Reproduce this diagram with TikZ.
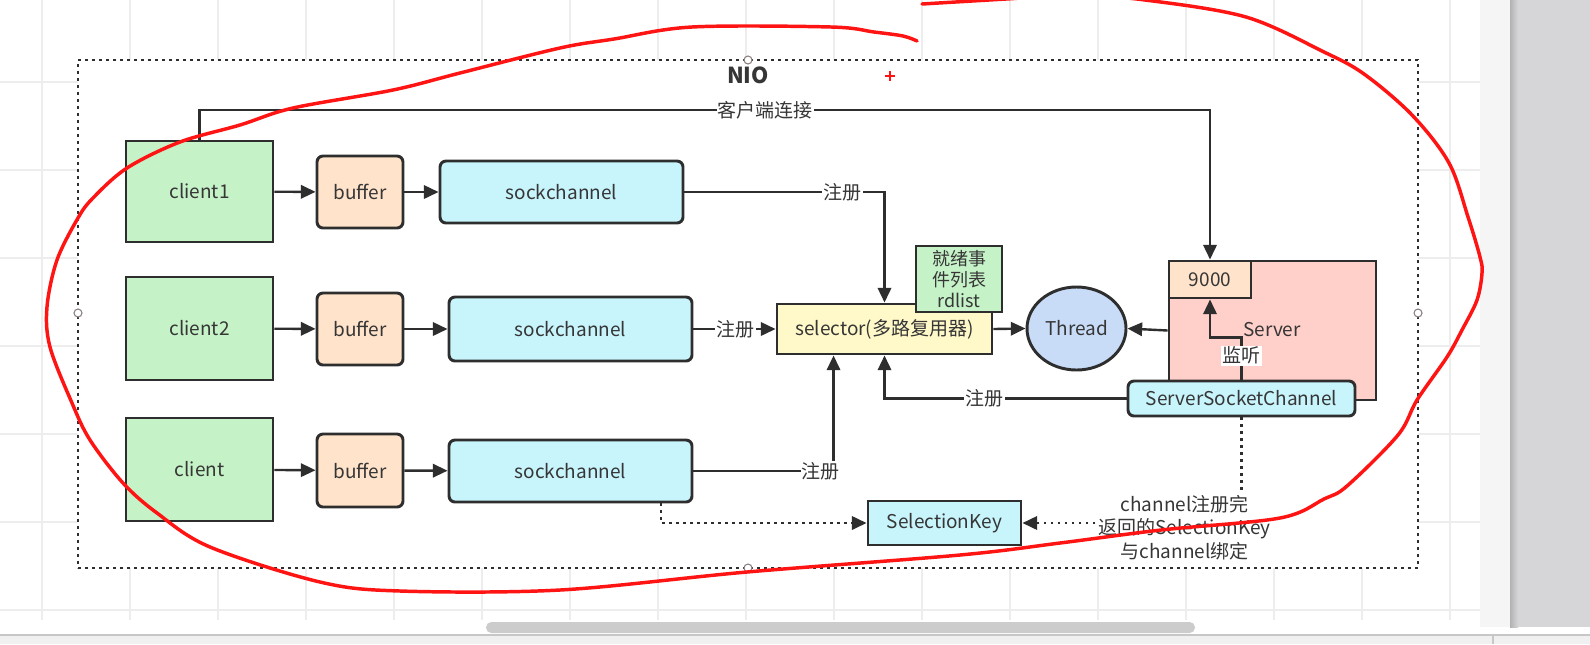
\documentclass[tikz,border=0pt]{standalone}
\usepackage{fontspec}
\setmainfont{Noto Sans CJK SC}
\usetikzlibrary{arrows.meta,shapes.geometric,calc}
\definecolor{linec}{HTML}{2E2E2E}
\definecolor{txtc}{HTML}{363636}
\definecolor{greenf}{HTML}{C6F2C8}
\definecolor{orangef}{HTML}{FFE3CA}
\definecolor{cyanf}{HTML}{C8F4FC}
\definecolor{yellowf}{HTML}{FFF8C8}
\definecolor{bluef}{HTML}{C8DCF8}
\definecolor{pinkf}{HTML}{FFD0CA}
\definecolor{gridc}{HTML}{EDEDED}
\definecolor{redc}{HTML}{FF1414}
\definecolor{panelc}{HTML}{D6D6D9}
\definecolor{handlec}{HTML}{8A8080}
\newcommand\fsz{\fontsize{14.25}{17}\selectfont}
\tikzset{
  box/.style={draw=linec, line width=2.2pt, text=txtc, font=\fsz, inner sep=0pt},
  rbox/.style={box, rounded corners=4.5pt},
  conn/.style={draw=linec, line width=1.8pt, -{Triangle[length=11pt,width=10pt]}},
  dotc/.style={draw=linec, line width=1.9pt, dash pattern=on 1.9pt off 3.35pt, -{Triangle[length=11pt,width=10pt]}},
  lbl/.style={fill=white, inner sep=1pt, font=\fsz, text=txtc},
  handle/.style={draw=handlec, fill=white, line width=0.8pt}
}
\begin{document}
\begin{tikzpicture}[x=0.75pt,y=-0.75pt]
\useasboundingbox (0,0) rectangle (1590,644);
\clip (0,0) rectangle (1590,644);
% canvas background
\fill[white] (0,0) rectangle (1590,644);
\foreach \gx in {42,130,...,1450} \draw[gridc, line width=0.9pt] (\gx,0) -- (\gx,620);
\foreach \gy in {82,170,...,610} \draw[gridc, line width=0.9pt] (0,\gy) -- (1480,\gy);
% right panel
\fill[black!4] (1480,0) rectangle (1510,627);
\fill[panelc] (1510,0) rectangle (1590,627);
\shade[left color=black!30, right color=panelc] (1510,0) rectangle (1518,627);
% bottom strip and scrollbar
\fill[black!6] (0,635) rectangle (1590,644);
\draw[black!22, line width=0.8pt] (0,635) -- (1590,635);
\draw[black!22, line width=0.8pt] (1493,635) -- (1493,644);
\fill[black!20, rounded corners=4pt] (486,622) rectangle (1195,633);

% container frame
\node[draw=linec, fill=white, line width=1.9pt, dash pattern=on 1.9pt off 3.35pt,
      minimum width=1340*0.75pt, minimum height=508*0.75pt, inner sep=0pt] (frame) at (748,314) {};
\node[font=\fontsize{16.5}{19}\selectfont\bfseries, text=txtc] (nio) at (748,75) {NIO};

% clients
\node[box, fill=greenf, minimum width=147*0.75pt, minimum height=101*0.75pt] (client1) at (199.5,191.5) {client1};
\node[box, fill=greenf, minimum width=147*0.75pt, minimum height=103*0.75pt] (client2) at (199.5,328.5) {client2};
\node[box, fill=greenf, minimum width=147*0.75pt, minimum height=103*0.75pt] (client3) at (199.5,469.5) {client};
% buffers
\node[rbox, fill=orangef, minimum width=86*0.75pt, minimum height=72*0.75pt] (buf1) at (360,192) {buffer};
\node[rbox, fill=orangef, minimum width=86*0.75pt, minimum height=72*0.75pt] (buf2) at (360,329) {buffer};
\node[rbox, fill=orangef, minimum width=86*0.75pt, minimum height=73*0.75pt] (buf3) at (360,470.5) {buffer};
% sockchannels
\node[rbox, fill=cyanf, minimum width=243*0.75pt, minimum height=62*0.75pt] (sock1) at (561.5,192) {sockchannel};
\node[rbox, fill=cyanf, minimum width=243*0.75pt, minimum height=64*0.75pt] (sock2) at (570.5,329) {sockchannel};
\node[rbox, fill=cyanf, minimum width=243*0.75pt, minimum height=62*0.75pt] (sock3) at (570.5,471) {sockchannel};
% selector and rdlist
\node[box, fill=yellowf, minimum width=215*0.75pt, minimum height=50*0.75pt] (selector) at (884.5,329) {selector(多路复用器)};
\node[box, fill=greenf, minimum width=86*0.75pt, minimum height=66*0.75pt, align=center,
      font=\fontsize{13.5}{15.75}\selectfont] (rdlist) at (959,279) {就绪事\\件列表\\rdlist};
% thread
\node[box, ellipse, fill=bluef, minimum width=99*0.75pt, minimum height=83*0.75pt] (thread) at (1076.5,328.5) {Thread};
% server
\node[box, fill=pinkf, minimum width=207*0.75pt, minimum height=139*0.75pt] (server) at (1272.5,330.5) {};
\node[font=\fsz, text=txtc] (serverlbl) at (1272,330) {Server};
\node[box, fill=orangef, minimum width=82*0.75pt, minimum height=37*0.75pt] (p9000) at (1210,279.5) {9000};
\node[rbox, fill=cyanf, minimum width=227*0.75pt, minimum height=35*0.75pt] (ssc) at (1241.5,398.5) {ServerSocketChannel};
% selection key
\node[box, fill=cyanf, minimum width=153*0.75pt, minimum height=44*0.75pt] (selkey) at (944.5,523) {SelectionKey};

% connectors
\draw[conn] (client1) -- (buf1);
\draw[conn] (client2) -- (buf2);
\draw[conn] (client3) -- (buf3);
\draw[conn] (buf1) -- (sock1);
\draw[conn] (buf2) -- (sock2);
\draw[conn] (buf3) -- (sock3);
\draw[conn] (client1.north) -- ++(0,-29.5) -| node[lbl, pos=0.28] {客户端连接} (p9000.north);
\draw[conn] (sock1.east) -| node[lbl, pos=0.395] {注册} (selector.north);
\draw[conn] (sock2.east) -- node[lbl, pos=0.51] {注册} (selector.west);
\draw[conn] (sock3.east) -| node[lbl, pos=0.455] {注册} ($(selector.south west)+(58,0)$);
\draw[conn] (ssc.west) -| node[lbl, pos=0.294] {注册} (selector.south);
\draw[conn] (selector.east) -- (thread.west);
\draw[conn] (server.west) -- (thread.east);
\draw[conn] (ssc.north) -- node[lbl, pos=0.57] {监听} ++(0,-42) -| (p9000.south);
\draw[dotc] ($(sock3.south)+(90.5,0)$) |- (selkey.west);
\draw[dotc] (ssc.south) |- node[lbl, pos=0.63, yshift=-3.5pt, align=center,
   font=\fontsize{14.25}{17.6}\selectfont] {channel注册完\\返回的SelectionKey\\与channel绑定} (selkey.east);

% selection handles and cursor mark
\draw[handle] (748,60) circle (4);
\draw[handle] (78,313) circle (4);
\draw[handle] (1418,313) circle (4);
\draw[handle] (748,568) circle (4);
\draw[redc, line width=1.2pt] (885,76) -- (895,76) (890,71) -- (890,81);

% red hand-drawn loop
\draw[redc, line width=2.6pt, line cap=round, line join=round]
  plot[smooth, tension=0.55] coordinates {
  (917,41) (903,36) (874,32) (831,27) (692,27) (614,39) (560,48) (460,73) (393,90)
  (293,108) (240,125) (180,142) (127,168) (93,198) (78,218) (57,260) (47,307) (50,347)
  (72,403) (90,440) (123,483) (157,513) (210,547) (320,582) (400,591) (560,590)
  (747,572) (960,555) (1060,543) (1161,530) (1280,518) (1324,499) (1347,486) (1398,435)
  (1417,400) (1447,357) (1462,330) (1477,300) (1482,273) (1480,257) (1468,217) (1449,163)
  (1412,115) (1364,74) (1324,52) (1246,17) (1145,0) (1075,-5) (1006,-1) (922,4)};
\end{tikzpicture}
\end{document}
